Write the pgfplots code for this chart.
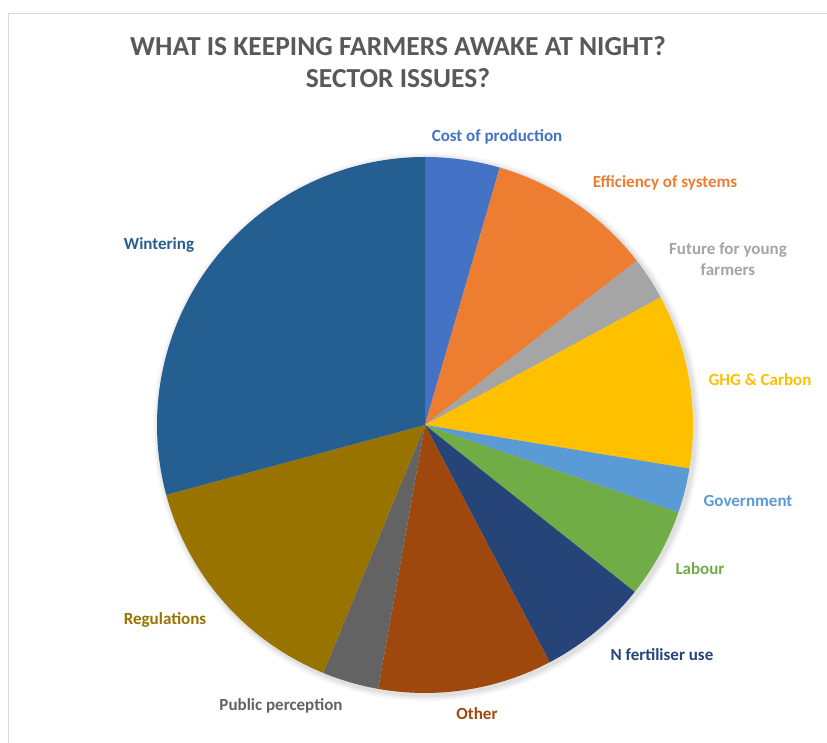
\documentclass[border=0pt]{standalone}
\usepackage{fontspec}
\setmainfont{Carlito}
\usepackage{pgfplots}
\usepackage{pgfplotstable}
\pgfplotsset{compat=1.18}
\definecolor{c1}{HTML}{4472C4}
\definecolor{c2}{HTML}{ED7D31}
\definecolor{c3}{HTML}{A5A5A5}
\definecolor{c4}{HTML}{FFC000}
\definecolor{c5}{HTML}{5B9BD5}
\definecolor{c6}{HTML}{70AD47}
\definecolor{c7}{HTML}{264478}
\definecolor{c8}{HTML}{9E480E}
\definecolor{c9}{HTML}{636363}
\definecolor{c10}{HTML}{997300}
\definecolor{c11}{HTML}{255E91}
\definecolor{titlegray}{HTML}{595959}
\definecolor{framegray}{HTML}{D9D9D9}

\pgfplotstableread[col sep=comma]{
name,value,color,lx,ly
Cost of production,4.5,c1,497,137
Efficiency of systems,10.0,c2,665,183
Future for young farmers,2.6,c3,728,259
GHG & Carbon,10.5,c4,760,380
Government,2.7,c5,748,501
Labour,5.4,c6,700,569
N fertiliser use,6.6,c7,662,655
Other,10.5,c8,477,714
Public perception,3.4,c9,281,706
Regulations,14.6,c10,165,620
Wintering,29.2,c11,159,245
}\piedata

\begin{document}
\begin{tikzpicture}
\begin{axis}[x=1pt,y=1pt,xmin=0,xmax=827,ymin=0,ymax=743,hide axis,clip=false]
\pgfplotsextra{
  \path[fill=white] (axis cs:0,0) rectangle (axis cs:827,743);
  \begin{scope}
  \clip (axis cs:0,0) rectangle (axis cs:827,743);
  \draw[color=framegray, line width=1.5pt] (axis cs:8.5,-5) -- (axis cs:8.5,729.5) -- (axis cs:835,729.5);
  \end{scope}
  % soft shadow
  \foreach \s/\o in {6/0.03,4/0.04,2/0.05}{
    \fill[black, opacity=\o] (axis cs:427,316) circle[radius={268+\s}];
  }
  \pgfplotstablegetrowsof{\piedata}
  \pgfmathtruncatemacro{\nrows}{\pgfplotsretval-1}
  \gdef\cum{0}
  \foreach \i in {0,...,\nrows}{
    \pgfplotstablegetelem{\i}{value}\of\piedata \let\val\pgfplotsretval
    \pgfplotstablegetelem{\i}{color}\of\piedata \let\col\pgfplotsretval
    \pgfmathsetmacro{\a}{90-3.6*\cum}
    \pgfmathsetmacro{\b}{90-3.6*(\cum+\val)}
    \fill[color=\col] (axis cs:425,318) -- ++(\a:268pt) arc[start angle=\a, end angle=\b, radius=268pt] -- cycle;
    \pgfmathsetmacro{\newcum}{\cum+\val}
    \xdef\cum{\newcum}
  }
  \foreach \i/\txt in {0/{Cost of production},1/{Efficiency of systems},2/{Future for young\\farmers},3/{GHG \& Carbon},4/{Government},5/{Labour},6/{N fertiliser use},7/{Other},8/{Public perception},9/{Regulations},10/{Wintering}}{
    \pgfplotstablegetelem{\i}{color}\of\piedata \let\col\pgfplotsretval
    \pgfplotstablegetelem{\i}{lx}\of\piedata \let\lx\pgfplotsretval
    \pgfplotstablegetelem{\i}{ly}\of\piedata \let\ly\pgfplotsretval
    \node[text=\col, align=center, font=\fontsize{17}{21}\selectfont\bfseries, inner sep=0pt] at (axis cs:\lx,{743-\ly}) {\txt};
  }
  \node[text=titlegray, align=center, font=\fontsize{27.5}{32}\selectfont\bfseries, inner sep=0pt] at (axis cs:398,681) {WHAT IS KEEPING FARMERS AWAKE AT NIGHT?\\SECTOR ISSUES?};
}
\end{axis}
\end{tikzpicture}
\end{document}
